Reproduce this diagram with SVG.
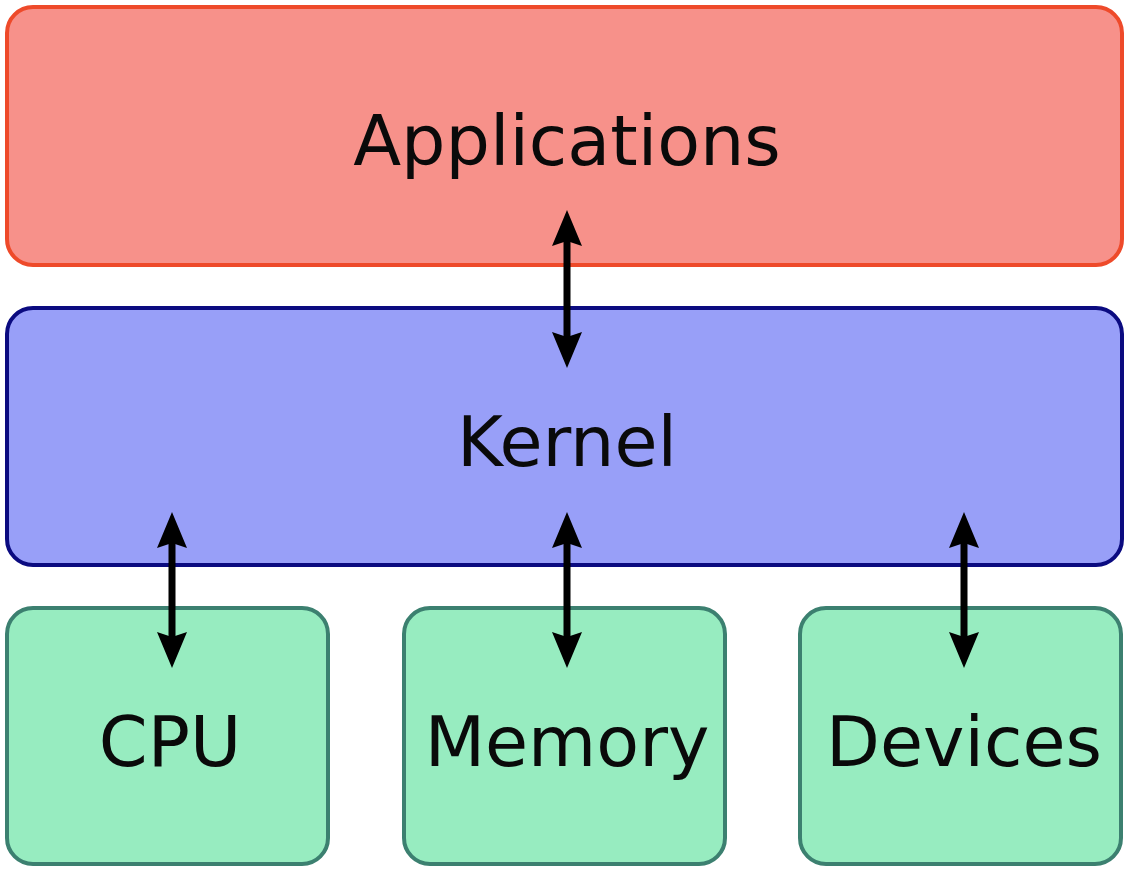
<svg xmlns="http://www.w3.org/2000/svg" width="1130" height="876" viewBox="0 0 1130 876">
<style>
.lbl{font-family:"DejaVu Sans",Verdana,sans-serif;font-size:70px;fill:#0a0a0a;text-anchor:middle}
.app{fill:#f7918a;stroke:#ee4a2a;stroke-width:4}
.ker{fill:#989ff8;stroke:#0b0b80;stroke-width:4}
.hw{fill:#97ecc0;stroke:#3c8070;stroke-width:4}
.con{stroke:#000;stroke-width:7;fill:none;marker-start:url(#ah);marker-end:url(#ah)}
</style>
<defs>
<marker id="ah" markerUnits="userSpaceOnUse" viewBox="0 0 36 30" refX="24" refY="15" markerWidth="36" markerHeight="30" orient="auto-start-reverse">
<path d="M0,0 L36,15 L0,30 L5,15 Z" fill="#000"/>
</marker>
</defs>
<rect width="1130" height="876" fill="#fff"/>
<g id="applications">
<rect class="app" x="7" y="7" width="1115" height="258" rx="26"/>
<text class="lbl" x="567" y="165">Applications</text>
</g>
<g id="kernel">
<rect class="ker" x="7" y="308" width="1115" height="257" rx="26"/>
<text class="lbl" x="567" y="466">Kernel</text>
</g>
<g id="cpu">
<rect class="hw" x="7" y="608" width="321" height="256" rx="26"/>
<text class="lbl" x="170" y="766">CPU</text>
</g>
<g id="memory">
<rect class="hw" x="404" y="608" width="321" height="256" rx="26"/>
<text class="lbl" x="567" y="766">Memory</text>
</g>
<g id="devices">
<rect class="hw" x="800" y="608" width="321" height="256" rx="26"/>
<text class="lbl" x="964" y="766">Devices</text>
</g>
<g id="connectors">
<line class="con" x1="567" y1="222" x2="567" y2="356"/>
<line class="con" x1="172" y1="524" x2="172" y2="656"/>
<line class="con" x1="567" y1="524" x2="567" y2="656"/>
<line class="con" x1="964" y1="524" x2="964" y2="656"/>
</g>
</svg>
